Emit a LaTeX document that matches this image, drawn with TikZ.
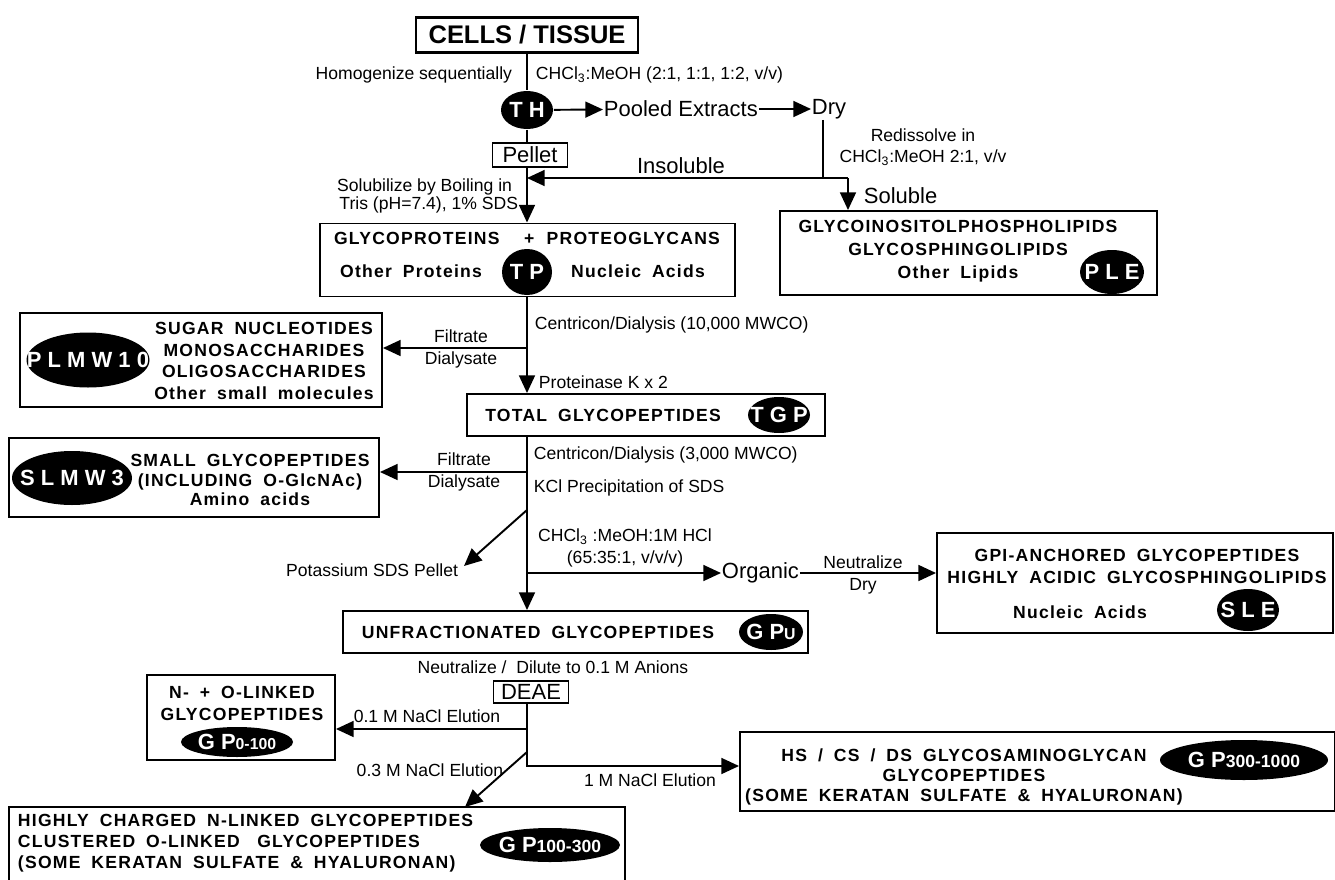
\documentclass[tikz,border=0pt]{standalone}
\usepackage{fontspec}
\setmainfont{Liberation Sans}
\newfontfamily\boxfont{Liberation Sans}[LetterSpace=7,WordSpace=1.8]
\usepackage{tikz}
\usetikzlibrary{arrows.meta,shapes.geometric}
\newcommand{\pxu}{0.2mm}
\newcommand{\blobtxt}[1]{\makebox[0pt]{#1}}

\begin{document}
\begin{tikzpicture}[x=\pxu,y=-\pxu,line width=1.1pt,
  arw/.style={-{Triangle[length=10pt,width=9pt]}},
  box/.style 2 args={draw,minimum width=#1*\pxu,minimum height=#2*\pxu,inner sep=0pt},
  blob/.style 2 args={ellipse,fill=black,text=white,minimum width=#1*\pxu,minimum height=#2*\pxu,inner sep=0pt,font=\bfseries\fontsize{12.5}{12.5}\selectfont},
  lbl/.style={inner sep=0pt,font=\fontsize{10}{12.5}\selectfont,align=center},
  big/.style={inner sep=0pt,font=\fontsize{12.5}{14}\selectfont},
  btxt/.style={inner sep=0pt,align=center,font=\boxfont\bfseries\fontsize{10}{#1}\selectfont},
  btxt/.default=12.5]
  \useasboundingbox (0,0) rectangle (1335,880);
  \fill[white] (0,0) rectangle (1335,880);

  % extraction
  \node[box={222}{35},line width=1.6pt,font=\bfseries\fontsize{14.5}{16}\selectfont] (cells) at (527,35) {CELLS / TISSUE};
  \node[lbl,anchor=east] (homog) at (513,75) {Homogenize sequentially};
  \node[lbl,anchor=west] (solv1) at (535,75) {CHCl\textsubscript{3}:MeOH (2:1, 1:1, 1:2, v/v)};
  \node[blob={52}{38}] (th) at (527,110) {\blobtxt{T H}};
  \node[big,anchor=west] (pooled) at (603,109) {Pooled Extracts};
  \node[big,anchor=west] (dry1) at (811,109) {Dry};
  \node[box={75}{24},font=\fontsize{12.5}{14}\selectfont] (pellet) at (530,155) {Pellet};
  \node[lbl] (redis) at (923,147) {Redissolve in\\CHCl\textsubscript{3}:MeOH 2:1, v/v};
  \node[big] (insol) at (681,166) {Insoluble};
  \node[big,anchor=west] (sol) at (863,196) {Soluble};
  \node[lbl,anchor=east] (boil1) at (513,187) {Solubilize by Boiling in};
  \node[lbl,anchor=east] (boil2) at (519,205) {Tris (pH=7.4), 1\% SDS};
  \coordinate (j1) at (527,178);
  \coordinate (k1) at (823,178);
  \coordinate (k2) at (848,178);

  % proteins / lipids
  \node[box={415}{73}] (tp) at (527.5,260) {};
  \node[btxt] (tp1) at (527,238) {GLYCOPROTEINS\hspace{14pt}+\hspace{7pt}PROTEOGLYCANS};
  \node[btxt] (tp2) at (411,271) {Other Proteins};
  \node[blob={50}{46}] (tpb) at (527,272) {\blobtxt{T P}};
  \node[btxt] (tp3) at (638,271) {Nucleic Acids};
  \node[box={377}{84}] (ple) at (968.5,253) {};
  \node[btxt=13] (ple1) at (958,251) {GLYCOINOSITOLPHOSPHOLIPIDS\\GLYCOSPHINGOLIPIDS\\Other Lipids};
  \node[blob={64}{44}] (pleb) at (1112,272) {\blobtxt{P L E}};

  \coordinate (b1) at (527,348);
  \node[lbl,anchor=west] (cen1) at (534,325) {Centricon/Dialysis (10,000 MWCO)};
  \node[lbl] (fd1) at (461,349) {Filtrate\\Dialysate};
  \node[lbl,anchor=west] (prot) at (538,382) {Proteinase K x 2};
  \node[box={362}{94}] (plmw) at (201,360) {};
  \node[btxt=12.3] (plmw1) at (264,361) {SUGAR NUCLEOTIDES\\MONOSACCHARIDES\\OLIGOSACCHARIDES\\Other small molecules};
  \node[blob={123}{55}] (plmwb) at (88,360) {\blobtxt{P L M W 1 0}};

  % glycopeptides
  \node[box={358}{42}] (tgp) at (646,415) {};
  \node[btxt] (tgp1) at (603,415) {TOTAL\ GLYCOPEPTIDES};
  \node[blob={62}{36}] (tgpb) at (779,415) {\blobtxt{T G P}};
  \coordinate (b2) at (527,472);
  \coordinate (b3) at (527,510);
  \coordinate (b4) at (527,573);
  \coordinate (ptip) at (464,566);
  \node[lbl,anchor=west] (cen2) at (533,455) {Centricon/Dialysis (3,000 MWCO)};
  \node[lbl] (fd2) at (464,472) {Filtrate\\Dialysate};
  \node[lbl,anchor=west] (kcl) at (533,488) {KCl Precipitation of SDS};
  \node[lbl,anchor=east] (potass) at (459,570) {Potassium SDS Pellet};
  \node[lbl] (hcl) at (625,548) {CHCl\textsubscript{3} :MeOH:1M HCl\\(65:35:1, v/v/v)};
  \node[big,anchor=west] (organic) at (721,573) {Organic};
  \node[lbl,font=\fontsize{10}{13}\selectfont] (nd) at (863,575) {Neutralize\\Dry};
  \node[box={370}{79}] (slmw) at (194,477.5) {};
  \node[btxt=11.3] (slmw1) at (250,480) {SMALL GLYCOPEPTIDES\\(INCLUDING O-GlcNAc)\\Amino acids};
  \node[blob={120}{54}] (slmwb) at (72,478) {\blobtxt{S L M W 3}};
  \node[box={396}{100}] (sle) at (1135,583) {};
  \node[btxt] (sle1) at (1137,566) {GPI-ANCHORED GLYCOPEPTIDES\\HIGHLY ACIDIC GLYCOSPHINGOLIPIDS};
  \node[btxt] (sle2) at (1080,612) {Nucleic Acids};
  \node[blob={62}{42}] (sleb) at (1248,610) {\blobtxt{S L E}};

  \node[box={465}{42}] (gpu) at (575.5,632) {};
  \node[btxt] (gpu1) at (538,632) {UNFRACTIONATED\ GLYCOPEPTIDES};
  \node[blob={64}{36}] (gpub) at (771,632) {\blobtxt{G P{\fontsize{9}{9}\selectfont U}}};
  \node[lbl] (anions) at (553,667) {Neutralize /\ \ Dilute to 0.1 M Anions};
  \node[box={75}{22},font=\fontsize{12.5}{14}\selectfont] (deae) at (531,692) {DEAE};

  % DEAE fractions
  \coordinate (b5) at (527,729);
  \coordinate (b6) at (527,752);
  \coordinate (b7) at (527,766);
  \coordinate (gtip) at (465,807);
  \node[lbl] (el1) at (427,716) {0.1 M NaCl Elution};
  \node[lbl] (el3) at (430,770) {0.3 M NaCl Elution};
  \node[lbl] (el10) at (650,780) {1 M NaCl Elution};
  \node[box={188}{85}] (nol) at (241,717.5) {};
  \node[btxt] (nol1) at (242,703) {N- + O-LINKED\\GLYCOPEPTIDES};
  \node[blob={112}{30}] (gp01b) at (237,742) {\blobtxt{G P{\fontsize{9}{9}\selectfont 0-100}}};
  \node[box={595}{79}] (hs) at (1037.5,771.5) {};
  \node[btxt=11.3] (hs1) at (964,777) {HS / CS / DS GLYCOSAMINOGLYCAN\\GLYCOPEPTIDES\\(SOME KERATAN SULFATE \& HYALURONAN)};
  \node[blob={168}{40}] (gp310b) at (1244,760) {\blobtxt{G P{\fontsize{10}{10}\selectfont 300-1000}}};
  \node[box={616}{83}] (gp13) at (317,848.5) {};
  \node[btxt=12,align=left,anchor=west] (gp131) at (17,843) {HIGHLY CHARGED N-LINKED GLYCOPEPTIDES\\CLUSTERED O-LINKED\quad GLYCOPEPTIDES\\(SOME KERATAN SULFATE \& HYALURONAN)};
  \node[blob={140}{34}] (gp13b) at (550,845) {\blobtxt{G P{\fontsize{10}{10}\selectfont 100-300}}};

  % connectors
  \draw (cells) -- (th);
  \draw[arw] (th) -- (pooled);
  \draw[arw] (pooled) -- (dry1);
  \draw (th) -- (pellet.north -| th);
  \draw[arw] (pellet.south -| th) -- (tp.north -| th);
  \draw (dry1.south -| k1) -- (k1);
  \draw[arw] (k2) -- (j1);
  \draw[arw] (k2) -- (ple.north -| k2);
  \draw[arw] (tp.south -| th) -- (tgp.north -| th);
  \draw[arw] (b1) -- (plmw.east |- b1);
  \draw[arw] (tgp.south -| th) -- (gpu.north -| th);
  \draw[arw] (b2) -- (slmw.east |- b2);
  \draw[arw] (b3) -- (ptip);
  \draw[arw] (b4) -- (organic.west);
  \draw[arw] (organic.east) -- (sle.west |- organic);
  \draw[arw] (deae.south -| th) |- (hs.west |- b7);
  \draw[arw] (b5) -- (nol.east |- b5);
  \draw[arw] (b6) -- (gtip);
\end{tikzpicture}
\end{document}
